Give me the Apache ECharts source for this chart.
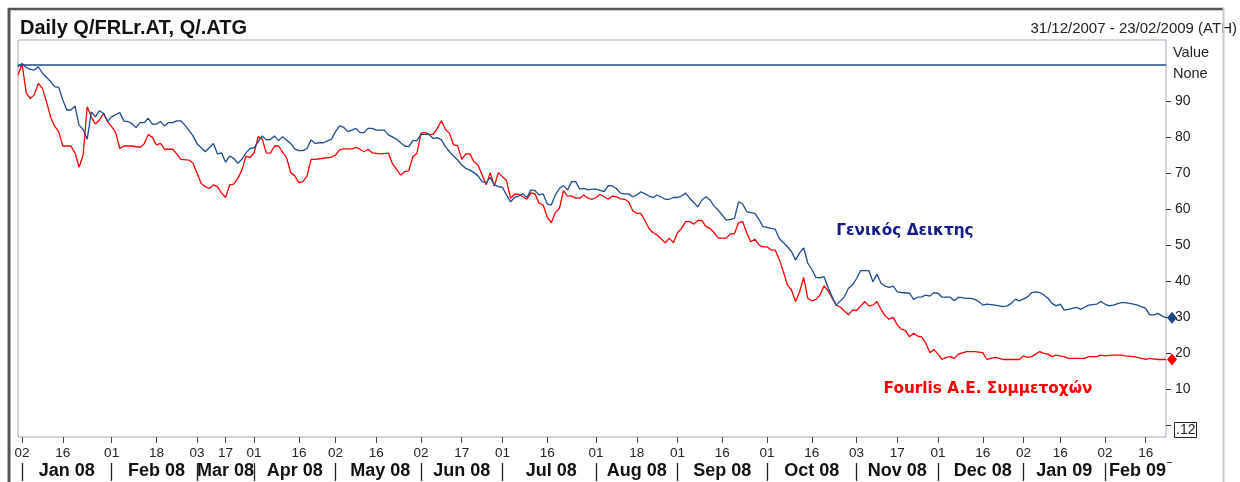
<!DOCTYPE html>
<html><head><meta charset="utf-8">
<script src="https://cdn.jsdelivr.net/npm/echarts@6/dist/echarts.min.js"></script>
<style>html,body{margin:0;padding:0;background:#fff}#c{width:1240px;height:482px}</style>
</head><body><div id="c"></div>
<script>
const chartTitle = 'Daily Q/FRLr.AT, Q/.ATG';
const dateRange = '31/12/2007 - 23/02/2009 (ATH)';
const atgName = 'Γενικός Δεικτης';
const frlName = 'Fourlis A.E. Συμμετοχών';
const firstDay = '2007-12-31', lastDay = '2009-02-23';
const closedDays = ['2008-01-01','2008-03-10','2008-03-25','2008-04-25','2008-04-28','2008-05-01','2008-06-16','2008-08-15','2008-10-28','2008-12-25','2008-12-26','2009-01-01','2009-01-06'];
const missingDays = ['2008-03-12','2008-03-13','2008-03-19','2008-03-20','2008-03-21'];
const dayTickDates = ['2008-01-02','2008-01-16','2008-02-01','2008-02-18','2008-03-03','2008-03-17','2008-04-01','2008-04-16','2008-05-02','2008-05-16','2008-06-02','2008-06-17','2008-07-01','2008-07-16','2008-08-01','2008-08-18','2008-09-01','2008-09-16','2008-10-01','2008-10-16','2008-11-03','2008-11-17','2008-12-01','2008-12-16','2009-01-02','2009-01-16','2009-02-02','2009-02-16'];
const monthStarts = ['2008-01-02','2008-02-01','2008-03-03','2008-04-01','2008-05-02','2008-06-02','2008-07-01','2008-08-01','2008-09-01','2008-10-01','2008-11-03','2008-12-01','2009-01-02','2009-02-02'];
const monthLabels = ['Jan 08','Feb 08','Mar 08','Apr 08','May 08','Jun 08','Jul 08','Aug 08','Sep 08','Oct 08','Nov 08','Dec 08','Jan 09','Feb 09'];
const yTickValues = [0,10,20,30,40,50,60,70,80,90];
const yLabelValues = [10,20,30,40,50,60,70,80,90];
const baseLevel = 100;
const yMin = -3.33, yMax = 106.94;

// [trading-day number, value]
const atgPoints = [[0,99.5],[1,100.4],[2,99.3],[3,98.8],[4,98.6],[5,99.5],[6,97.7],[8,95.4],[9,94.0],[10,93.8],[11,90.3],[12,87.5],[13,87.5],[14,88.6],[15,83.3],[16,82.1],[17,79.4],[18,87.0],[19,85.6],[20,87.3],[21,86.6],[22,84.4],[23,85.6],[25,86.8],[26,84.4],[27,84.3],[28,83.7],[29,82.6],[30,84.0],[31,84.0],[32,85.2],[33,83.6],[34,83.6],[35,84.3],[36,83.1],[37,84.0],[38,84.0],[39,84.5],[40,84.5],[41,83.3],[43,80.3],[44,78.1],[46,75.9],[48,78.2],[49,75.3],[50,75.6],[51,73.0],[52,74.7],[53,74.1],[54,72.7],[55,73.8],[56,75.6],[57,76.8],[58,77.0],[59,78.7],[60,80.3],[61,79.2],[62,79.3],[63,80.3],[64,79.0],[65,80.1],[67,78.2],[68,76.6],[69,76.2],[70,76.2],[71,76.8],[72,79.2],[73,78.2],[74,78.4],[75,78.4],[77,79.4],[78,81.5],[79,83.1],[80,82.7],[81,81.5],[82,81.9],[83,82.4],[84,81.2],[85,81.2],[86,82.4],[87,82.4],[88,81.9],[90,81.9],[91,80.6],[93,79.4],[94,78.4],[95,77.5],[96,77.3],[97,79.0],[98,79.0],[99,80.7],[100,80.7],[101,80.7],[102,79.6],[103,79.8],[104,79.2],[105,77.3],[106,75.9],[107,74.7],[108,73.6],[109,72.2],[110,71.3],[111,70.8],[112,70.1],[113,69.2],[114,67.6],[115,67.3],[116,68.8],[117,66.7],[118,66.2],[119,66.0],[120,63.9],[121,62.0],[122,63.2],[123,63.6],[124,64.2],[125,63.2],[126,65.3],[127,65.1],[128,63.9],[129,64.2],[130,61.4],[131,61.1],[132,63.9],[133,65.7],[134,66.5],[135,65.3],[136,67.6],[137,67.6],[138,65.5],[139,65.7],[140,65.3],[141,65.5],[142,65.5],[144,64.8],[145,66.5],[146,66.4],[147,65.7],[148,64.4],[149,64.2],[150,64.2],[151,63.4],[152,63.9],[153,64.8],[154,64.2],[155,63.6],[156,63.2],[157,63.9],[159,62.7],[160,62.7],[161,63.2],[162,63.2],[163,63.6],[164,64.4],[165,63.0],[166,61.8],[167,60.6],[168,62.5],[169,63.4],[170,62.5],[171,60.8],[172,59.7],[173,58.3],[174,56.9],[175,57.1],[176,57.4],[177,62.0],[178,61.4],[179,59.3],[180,59.0],[181,58.8],[182,57.1],[183,55.1],[184,54.9],[185,54.6],[186,54.4],[187,51.8],[188,50.7],[189,49.5],[190,48.2],[191,45.8],[192,47.8],[193,49.2],[194,45.0],[195,43.2],[196,41.0],[197,40.9],[198,41.2],[199,38.2],[200,35.6],[201,33.3],[203,35.6],[204,38.0],[205,38.9],[206,40.7],[207,42.9],[209,42.9],[210,39.8],[211,41.9],[212,39.4],[213,38.6],[214,38.2],[215,38.6],[216,37.0],[217,36.8],[219,36.6],[220,34.9],[221,35.5],[222,35.6],[223,36.1],[224,35.8],[225,36.8],[226,36.6],[227,35.5],[228,35.5],[229,35.5],[230,34.5],[231,35.5],[233,35.2],[234,35.2],[235,34.9],[236,34.3],[237,33.3],[238,33.6],[240,33.3],[241,33.1],[242,32.9],[243,33.1],[244,33.8],[245,34.9],[246,34.5],[248,35.6],[249,36.8],[250,37.0],[251,36.8],[252,36.1],[253,35.2],[254,33.8],[255,33.1],[256,33.6],[257,31.9],[258,32.1],[260,32.7],[261,32.1],[262,32.7],[263,33.3],[265,33.6],[266,34.3],[267,33.6],[268,33.1],[269,33.3],[271,34.0],[272,34.0],[273,33.8],[274,33.6],[275,33.3],[277,32.4],[278,30.6],[279,30.6],[280,31.0],[281,30.3],[282,29.8]];
const frlPoints = [[0,97.2],[1,100.3],[2,92.3],[3,90.7],[4,91.7],[5,94.9],[6,93.5],[7,89.8],[8,85.5],[9,83.0],[10,81.5],[11,77.5],[13,77.5],[14,75.6],[15,71.6],[16,75.0],[17,88.4],[18,85.6],[19,83.6],[20,84.7],[21,86.6],[22,84.3],[23,82.9],[24,81.2],[25,76.8],[26,77.5],[28,77.5],[30,77.1],[31,78.1],[32,80.7],[33,79.9],[34,77.8],[35,78.2],[36,76.6],[38,76.6],[39,75.3],[40,73.8],[42,73.6],[43,72.7],[44,69.9],[45,67.1],[46,66.2],[47,65.7],[48,66.7],[49,66.2],[50,64.4],[51,63.2],[52,66.7],[53,66.9],[54,68.5],[55,70.8],[56,74.7],[57,74.3],[58,75.6],[59,80.1],[60,79.4],[61,75.6],[62,75.5],[63,77.5],[64,77.5],[66,74.1],[67,70.1],[68,69.2],[69,67.3],[70,67.6],[71,69.2],[72,73.8],[73,73.8],[75,74.1],[77,74.4],[78,75.0],[79,76.4],[80,76.7],[82,76.7],[83,77.1],[84,76.6],[85,75.9],[86,76.6],[87,75.6],[89,75.3],[91,75.5],[92,72.5],[93,71.0],[94,69.4],[95,70.4],[96,70.6],[97,74.5],[98,75.5],[99,81.0],[100,81.3],[101,80.7],[102,80.7],[103,82.4],[104,84.5],[105,82.1],[106,81.0],[107,77.8],[108,77.6],[109,73.8],[110,75.3],[111,75.3],[112,73.1],[113,72.2],[114,69.5],[115,66.7],[116,70.1],[117,66.4],[118,70.1],[119,69.0],[120,67.9],[121,63.0],[122,64.1],[123,64.1],[125,62.7],[126,64.5],[127,64.2],[128,61.6],[129,61.1],[130,57.7],[131,56.2],[132,59.0],[133,60.2],[134,65.1],[135,63.6],[136,63.6],[137,63.0],[138,63.0],[139,63.9],[140,63.0],[141,62.7],[142,63.2],[143,64.1],[144,63.4],[145,62.7],[146,63.6],[147,63.4],[148,62.8],[149,62.7],[150,62.0],[151,59.5],[152,58.8],[153,58.8],[154,56.8],[155,54.6],[156,53.4],[157,52.8],[159,50.6],[160,51.9],[161,50.6],[162,53.4],[163,54.6],[164,56.5],[165,56.5],[166,55.8],[167,56.8],[168,56.8],[169,55.1],[170,54.6],[171,53.4],[172,51.9],[174,51.9],[175,53.1],[176,53.2],[177,56.2],[178,56.5],[179,53.4],[180,50.9],[181,51.6],[182,50.0],[183,49.5],[184,49.5],[185,48.6],[186,48.6],[187,46.0],[188,42.6],[189,38.9],[190,37.5],[191,34.3],[192,37.0],[193,41.0],[194,35.2],[195,34.5],[196,34.9],[197,36.1],[198,38.6],[199,37.3],[200,35.2],[201,33.3],[202,32.7],[204,30.6],[205,31.9],[206,31.8],[207,33.1],[208,34.3],[209,33.1],[210,33.3],[211,34.3],[212,32.1],[213,30.3],[214,29.4],[215,29.9],[216,27.8],[217,26.6],[218,26.2],[219,24.5],[220,25.5],[221,24.7],[222,24.5],[223,22.7],[224,20.1],[225,21.0],[226,19.7],[227,18.2],[228,18.8],[229,19.0],[230,18.5],[231,19.7],[233,20.4],[235,20.4],[237,20.1],[238,18.2],[239,18.5],[240,18.8],[242,18.2],[246,18.2],[247,19.2],[248,18.8],[249,19.0],[251,20.4],[252,19.9],[253,19.7],[254,19.0],[255,19.4],[257,19.0],[258,18.5],[262,18.5],[263,19.0],[265,19.0],[266,19.4],[267,19.2],[269,19.4],[271,19.4],[272,19.2],[274,19.0],[275,18.8],[277,18.2],[278,18.5],[280,18.2],[282,18.2]];

// trading-day calendar (weekdays minus exchange closures / gaps)
const tradingDays = [];
for (let t = Date.parse(firstDay + 'T00:00:00Z'); t <= Date.parse(lastDay + 'T00:00:00Z'); t += 86400000) {
  const d = new Date(t), w = d.getUTCDay();
  if (w === 0 || w === 6) continue;
  const s = d.toISOString().slice(0, 10);
  if (closedDays.includes(s) || missingDays.includes(s)) continue;
  tradingDays.push(s);
}
const tickSet = new Set(dayTickDates);
const monthStartSet = new Set(monthStarts);
const monthMid = new Map();
monthStarts.forEach((s, k) => {
  const a = tradingDays.indexOf(s);
  const b = k + 1 < monthStarts.length ? tradingDays.indexOf(monthStarts[k + 1]) : tradingDays.length;
  monthMid.set(tradingDays[Math.round((a + b) / 2)], monthLabels[k]);
});

const BLUE = '#1c4c8e', RED = '#ff0000';
const FONT = 'Liberation Sans, Arial, sans-serif';
const chart = echarts.init(document.getElementById('c'), null, {renderer: 'canvas'});
chart.setOption({
  animation: false,
  backgroundColor: '#fff',
  title: {text: chartTitle, left: 15, top: 13, textStyle: {fontFamily: FONT, fontSize: 20, fontWeight: 'bold', color: '#111'}},
  grid: {left: 18, right: 74, top: 40, bottom: 45, show: true, borderColor: '#a9a9b9', borderWidth: 1, backgroundColor: 'transparent'},
  xAxis: [{
    type: 'category', data: tradingDays, boundaryGap: false,
    axisLine: {show: false, onZero: false}, splitLine: {show: false},
    axisTick: {show: true, interval: (i, v) => tickSet.has(v), length: 6, lineStyle: {color: '#444'}},
    axisLabel: {interval: (i, v) => tickSet.has(v), formatter: v => v.slice(8), margin: 9, fontSize: 13.5, color: '#222', fontFamily: FONT}
  }, {
    type: 'category', data: tradingDays, boundaryGap: false, position: 'bottom', offset: 26,
    axisLine: {show: false, onZero: false}, splitLine: {show: false},
    axisTick: {show: true, interval: (i, v) => monthStartSet.has(v), length: 18, lineStyle: {color: '#222', width: 1.3}},
    axisLabel: {interval: (i, v) => monthMid.has(v), formatter: v => monthMid.get(v) || '', margin: -1, fontSize: 18, fontWeight: 'bold', color: '#111', fontFamily: FONT}
  }],
  yAxis: {
    type: 'value', position: 'right', min: yMin, max: yMax,
    axisLine: {show: false}, splitLine: {show: false},
    axisTick: {show: true, customValues: yTickValues, length: 5, lineStyle: {color: '#333'}},
    axisLabel: {customValues: yLabelValues, margin: 9, fontSize: 14, color: '#222', fontFamily: FONT}
  },
  series: [{
    name: frlName, type: 'line', data: frlPoints, xAxisIndex: 0, showSymbol: false, symbol: 'none',
    lineStyle: {color: RED, width: 1.3}, itemStyle: {color: RED}, z: 3, clip: false,
    markPoint: {symbol: 'diamond', symbolSize: [10, 12], symbolOffset: [6, 0], label: {show: false}, itemStyle: {color: RED}, silent: true,
      data: [{coord: frlPoints[frlPoints.length - 1]}]}
  }, {
    name: atgName, type: 'line', data: atgPoints, xAxisIndex: 0, showSymbol: false, symbol: 'none',
    lineStyle: {color: BLUE, width: 1.3}, itemStyle: {color: BLUE}, z: 4, clip: false,
    markLine: {silent: true, symbol: 'none', label: {show: false}, lineStyle: {color: '#1a4a8a', width: 1.5, type: 'solid'}, data: [{yAxis: baseLevel}]},
    markPoint: {symbol: 'diamond', symbolSize: [10, 12], symbolOffset: [6, 0], label: {show: false}, itemStyle: {color: '#174a8c'}, silent: true,
      data: [{coord: atgPoints[atgPoints.length - 1]}]}
  }],
  graphic: [
    {type: 'text', x: 1237, y: 29, z: 10, style: {text: dateRange, font: '15px ' + FONT, fill: '#222', textAlign: 'right', textVerticalAlign: 'middle'}},
    {type: 'text', x: 1173, y: 53, style: {text: 'Value', font: '14.5px ' + FONT, fill: '#222', textVerticalAlign: 'middle'}},
    {type: 'text', x: 1173, y: 74, style: {text: 'None', font: '14.5px ' + FONT, fill: '#222', textVerticalAlign: 'middle'}},
    {type: 'rect', shape: {x: 1174.5, y: 422.5, width: 22, height: 15}, style: {fill: 'none', stroke: '#222', lineWidth: 1}},
    {type: 'text', x: 1176, y: 430.5, style: {text: '.12', font: '14px ' + FONT, fill: '#222', textVerticalAlign: 'middle'}},
    {type: 'line', shape: {x1: 1167, y1: 462.5, x2: 1172, y2: 462.5}, style: {stroke: '#333', lineWidth: 1}},
    {type: 'text', x: 905, y: 231, style: {text: atgName, font: 'bold 15.3px DejaVu Sans, Verdana, sans-serif', fill: '#131a8a', textAlign: 'center', textVerticalAlign: 'middle'}},
    {type: 'text', x: 988, y: 389, style: {text: frlName, font: 'bold 15.3px DejaVu Sans, Verdana, sans-serif', fill: '#ff0000', textAlign: 'center', textVerticalAlign: 'middle'}},
    {type: 'line', z: 20, shape: {x1: 8, y1: 9, x2: 1224, y2: 9}, style: {stroke: '#555', lineWidth: 2.5}},
    {type: 'line', z: 20, shape: {x1: 9, y1: 8, x2: 9, y2: 482}, style: {stroke: '#555', lineWidth: 3}},
    {type: 'line', z: 20, shape: {x1: 1223.5, y1: 8, x2: 1223.5, y2: 482}, style: {stroke: '#cfcbc3', lineWidth: 2}}
  ]
});
</script></body></html>
